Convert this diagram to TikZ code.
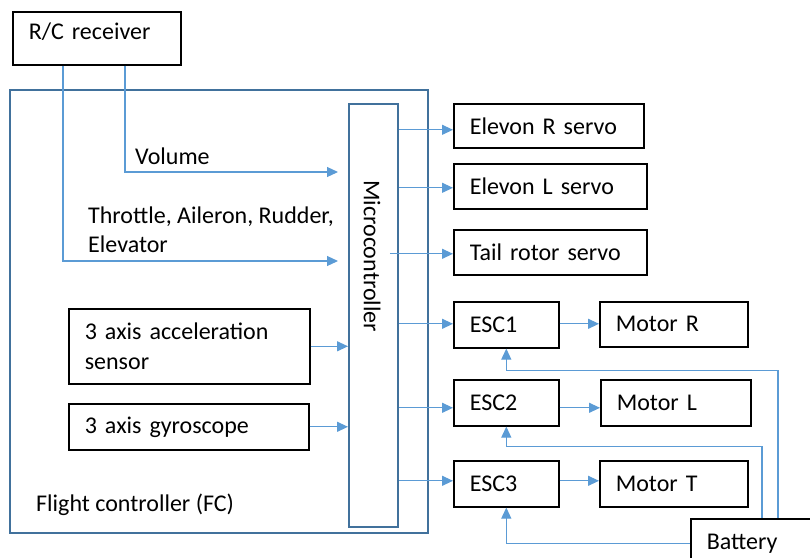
\documentclass[tikz,border=0pt]{standalone}
\usepackage{fontspec}
\setmainfont{Carlito}
\usetikzlibrary{arrows.meta,calc}
\definecolor{sigblue}{RGB}{91,155,213}
\definecolor{fcblue}{RGB}{65,113,156}
\tikzset{
  blk/.style={draw=black, line width=1.6pt, anchor=north west, align=left, inner xsep=16pt, inner ysep=0pt},
  frm/.style={draw=fcblue, line width=1.8pt, anchor=north west, inner sep=0pt},
  lbl/.style={inner sep=0pt, anchor=west},
  sig/.style={draw=sigblue, line width=1.2pt, -{Triangle[length=11pt,width=10pt]}},
}
\begin{document}
\begin{tikzpicture}[x=1pt, y=-1pt, font=\fontsize{24}{29.5}\selectfont]
  \path[use as bounding box, clip] (0,0) rectangle (810,557);
  % flight controller and microcontroller
  \node[frm, minimum width=418pt, minimum height=443pt] (fc) at (9,89) {};
  \node[lbl] (fclabel) at (36,505) {Flight controller (FC)};
  \node[frm, minimum width=49pt, minimum height=423pt] (mcu) at (348,103) {};
  \node[lbl, rotate=-90] (mcutext) at (372,180) {Microcontroller};
  % blocks
  \node[blk, text width=136pt, minimum height=53pt, text depth=14pt] (rc) at (12,11) {R/C receiver};
  \node[blk, text width=209pt, minimum height=75pt] (accel) at (68,308) {3 axis acceleration\\sensor};
  \node[blk, text width=208pt, minimum height=46pt] (gyro) at (68,403) {3 axis gyroscope};
  \node[blk, text width=158pt, minimum height=44pt] (elevR) at (453,103) {Elevon R servo};
  \node[blk, text width=161pt, minimum height=45pt] (elevL) at (453,163) {Elevon L servo};
  \node[blk, text width=161pt, minimum height=45pt] (tail) at (453,229) {Tail rotor servo};
  \node[blk, text width=73pt, minimum height=46pt] (esc1) at (453,301) {ESC1};
  \node[blk, text width=73pt, minimum height=46pt] (esc2) at (453,379) {ESC2};
  \node[blk, text width=73pt, minimum height=46pt] (esc3) at (453,460) {ESC3};
  \node[blk, text width=116pt, minimum height=45pt] (motR) at (599,301) {Motor R};
  \node[blk, text width=118pt, minimum height=46pt] (motL) at (600,379) {Motor L};
  \node[blk, text width=116pt, minimum height=46pt] (motT) at (599,460) {Motor T};
  \node[blk, text width=98pt, minimum height=50pt] (bat) at (690,518) {Battery};
  % signal labels
  \node[lbl] (vol) at (135,156) {Volume};
  \node[lbl, align=left] (tare) at (88,230) {Throttle, Aileron, Rudder,\\Elevator};
  % inputs
  \draw[sig] ([xshift=51pt]rc.south west) |- ([shift={(-10,158)}]mcu.north west);
  \draw[sig] ([xshift=113pt]rc.south west) |- ([shift={(-10,69)}]mcu.north west);
  \draw[sig] (accel.east) -- (accel.east -| mcu.west);
  \draw[sig] (gyro.east) -- (gyro.east -| mcu.west);
  % outputs
  \coordinate (inR) at ([yshift=-4pt]elevR.west);
  \coordinate (inL) at ([yshift=-1.5pt]elevL.west);
  \coordinate (inT) at ([yshift=-1.5pt]tail.west);
  \coordinate (in1) at ([yshift=1pt]esc1.west);
  \coordinate (in2) at ([yshift=-5pt]esc2.west);
  \coordinate (in3) at ([yshift=3pt]esc3.west);
  \draw[sig] (mcu.east |- inR) -- (inR);
  \draw[sig] (mcu.east |- inL) -- (inL);
  \draw[sig] ($(mcu.east |- inT)+(-9,0)$) -- (inT);
  \draw[sig] (mcu.east |- in1) -- (in1);
  \draw[sig] (mcu.east |- in2) -- (in2);
  \draw[sig] (mcu.east |- in3) -- (in3);
  \draw[sig] (in1 -| esc1.east) -- (in1 -| motR.west);
  \draw[sig] (in2 -| esc2.east) -- (in2 -| motL.west);
  \draw[sig] (in3 -| esc3.east) -- (in3 -| motT.west);
  % battery
  \draw[sig] ([xshift=88pt]bat.north west) |- ([yshift=-22pt]esc1.south) -- (esc1.south);
  \draw[sig] ([xshift=72pt]bat.north west) |- ([yshift=-20pt]esc2.south) -- (esc2.south);
  \draw[sig] (bat.west) -| (esc3.south);
\end{tikzpicture}
\end{document}
